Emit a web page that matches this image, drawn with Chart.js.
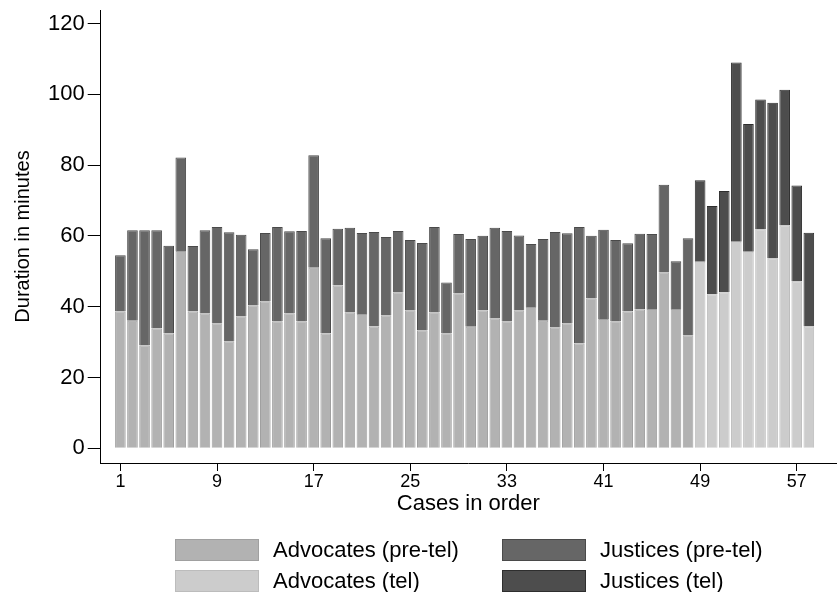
<!DOCTYPE html>
<html>
<head>
<meta charset="utf-8">
<script src="https://cdn.jsdelivr.net/npm/chart.js@4.4.1/dist/chart.umd.min.js"></script>
<style>
  body { margin: 0; background: #fff; }
  #wrap { position: relative; width: 838px; height: 592px; }
  #legend { position: absolute; left: 0; top: 0; width: 838px; height: 592px; pointer-events: none;
            font-family: "Liberation Sans", Arial, sans-serif; font-size: 22px; color: #000; }
  .item { position: absolute; display: flex; align-items: center; height: 22px; }
  .box { width: 84px; height: 22px; box-sizing: border-box; border: 1px solid; margin-right: 14px; }
</style>
</head>
<body>
<div id="wrap">
  <canvas id="chart" width="838" height="592"></canvas>
  <div id="legend"></div>
</div>
<script>
// case numbers, 1..58 in order
const cases = [1,2,3,4,5,6,7,8,9,10,11,12,13,14,15,16,17,18,19,20,21,22,23,24,25,26,27,28,29,
  30,31,32,33,34,35,36,37,38,39,40,41,42,43,44,45,46,47,48,49,50,51,52,53,54,55,56,57,58];

// minutes spoken by advocates, per case
const advocates = [38.6,36.0,29.0,33.8,32.4,55.7,38.6,38.1,35.3,30.2,37.3,40.4,41.5,35.9,38.1,35.9,
  51.0,32.4,46.0,38.4,37.9,34.4,37.6,44.1,39.0,33.3,38.4,32.5,43.8,34.3,38.9,36.7,35.9,39.0,39.9,
  36.0,34.2,35.3,29.6,42.4,36.5,35.9,38.6,39.2,39.3,49.7,39.3,31.9,
  52.7,43.5,44.1,58.3,55.5,61.8,53.6,62.9,47.1,34.4];

// minutes spoken by justices, per case
const justices = [15.9,25.6,32.6,27.8,24.8,26.4,18.5,23.5,27.2,30.8,23.0,15.8,19.3,26.6,23.2,25.5,
  31.8,26.9,16.0,23.9,22.9,26.7,22.1,17.3,19.8,24.7,24.1,14.3,16.7,24.8,21.1,25.6,25.5,21.1,17.8,
  23.1,26.9,25.4,32.9,17.6,25.2,22.9,19.3,21.4,21.2,24.7,13.5,27.4,
  23.0,24.9,28.6,50.7,36.1,36.7,44.0,38.4,27.1,26.5];

const telFrom = 49;   // first case argued by telephone
const xTicks = [1, 9, 17, 25, 33, 41, 49, 57];
const yTicks = [0, 20, 40, 60, 80, 100, 120];

const series = [
  { label: "Advocates (pre-tel)", src: advocates, tel: false, fill: "#b2b2b2", line: "#a0a0a0" },
  { label: "Advocates (tel)",     src: advocates, tel: true,  fill: "#cccccc", line: "#bcbcbc" },
  { label: "Justices (pre-tel)",  src: justices,  tel: false, fill: "#666666", line: "#4a4a4a" },
  { label: "Justices (tel)",      src: justices,  tel: true,  fill: "#4d4d4d", line: "#2e2e2e" }
];

const FONT = "'Liberation Sans', Arial, sans-serif";

const datasets = series.map(s => ({
  label: s.label,
  data: cases.map((c, i) => ({ x: c, y: (c >= telFrom) === s.tel ? s.src[i] : null })),
  backgroundColor: s.fill,
  borderColor: s.line,
  borderWidth: 1,
  categoryPercentage: 1,
  barPercentage: 0.88,
  stack: "all"
}));

// drop the extra room Chart.js keeps for edge tick labels
const noEdgePad = axis => {
  axis.paddingTop = 0; axis.paddingBottom = 0;
  axis.paddingLeft = 0; axis.paddingRight = 0;
};

new Chart(document.getElementById("chart"), {
  type: "bar",
  data: { datasets },
  options: {
    responsive: false,
    animation: false,
    devicePixelRatio: 1,
    layout: { padding: { left: 8, right: 2, top: 10, bottom: 77 } },
    plugins: { legend: { display: false }, tooltip: { enabled: false } },
    scales: {
      x: {
        type: "linear",
        stacked: true,
        offset: false,
        min: -0.63,
        max: 60.25,
        afterBuildTicks: axis => { axis.ticks = xTicks.map(v => ({ value: v })); },
        afterFit: noEdgePad,
        grid: { display: true, offset: false, drawOnChartArea: false, drawTicks: true, tickLength: 8, color: "#000" },
        border: { display: true, color: "#000", width: 1 },
        ticks: { color: "#000", font: { family: FONT, size: 18, lineHeight: 1 }, padding: 2, maxRotation: 0, autoSkip: false },
        title: { display: true, text: "Cases in order", color: "#000", font: { family: FONT, size: 22, lineHeight: 1 }, padding: { top: 0, bottom: 0 } }
      },
      y: {
        stacked: true,
        min: -4.17,
        max: 123.8,
        afterBuildTicks: axis => { axis.ticks = yTicks.map(v => ({ value: v })); },
        afterFit: noEdgePad,
        grid: { display: true, drawOnChartArea: false, drawTicks: true, tickLength: 13, color: "#000" },
        border: { display: true, color: "#000", width: 1 },
        ticks: { color: "#000", font: { family: FONT, size: 22 }, padding: 3 },
        title: { display: true, text: "Duration in minutes", color: "#000", font: { family: FONT, size: 20 }, padding: { top: 3, bottom: 10 } }
      }
    }
  }
});

// two-column legend under the plot, like the original
const legend = document.getElementById("legend");
const spots = [[175, 539], [175, 570], [502, 539], [502, 570]];
series.forEach((s, i) => {
  const item = document.createElement("div");
  item.className = "item";
  item.style.left = spots[i][0] + "px";
  item.style.top = spots[i][1] + "px";
  const box = document.createElement("div");
  box.className = "box";
  box.style.background = s.fill;
  box.style.borderColor = s.line;
  const txt = document.createElement("span");
  txt.textContent = s.label;
  item.appendChild(box);
  item.appendChild(txt);
  legend.appendChild(item);
});
</script>
</body>
</html>
